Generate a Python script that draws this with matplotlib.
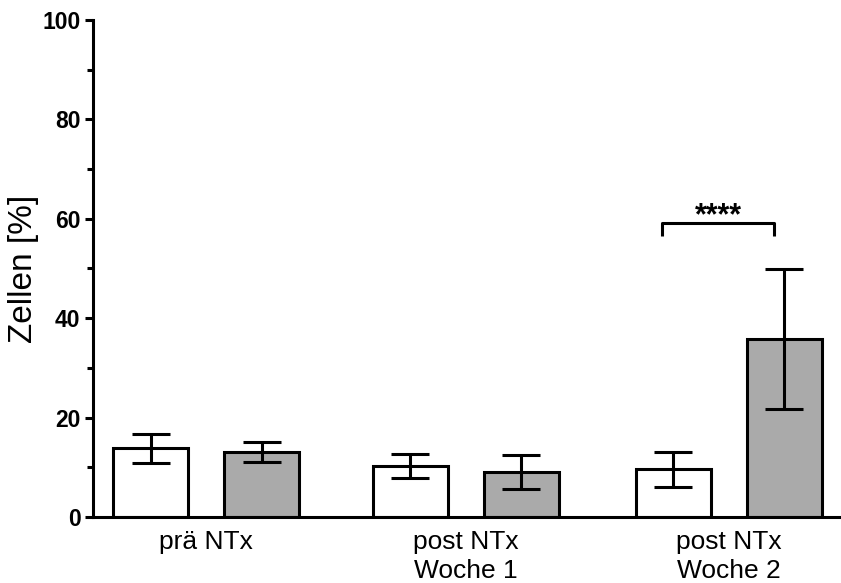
import matplotlib.pyplot as plt
import numpy as np

plt.rcParams['font.family'] = ['Liberation Sans', 'DejaVu Sans']

# Daten
gruppen = ['prä NTx', 'post NTx\nWoche 1', 'post NTx\nWoche 2']
werte_weiss = [13.8, 10.2, 9.6]
fehler_weiss = [2.9, 2.4, 3.5]
werte_grau = [13.1, 9.1, 35.8]
fehler_grau = [2.0, 3.4, 14.0]
signifikanz = '****'

# Positionen der Balken
mitte = np.array([0.75, 4.21, 7.72])
x_weiss = mitte - 0.74
x_grau = mitte + 0.74

fig = plt.figure(figsize=(8.41, 5.83), dpi=100)
ax = fig.add_axes([0.1106, 0.113, 0.888, 0.853])

lw = 2.2
ax.bar(x_weiss, werte_weiss, width=1.0, color='white', edgecolor='black', linewidth=lw, zorder=2)
ax.bar(x_grau, werte_grau, width=1.0, color='#aaaaaa', edgecolor='black', linewidth=lw, zorder=2)
ax.errorbar(x_weiss, werte_weiss, yerr=fehler_weiss, fmt='none', ecolor='black',
            elinewidth=lw, capsize=14, capthick=lw, zorder=3)
ax.errorbar(x_grau, werte_grau, yerr=fehler_grau, fmt='none', ecolor='black',
            elinewidth=lw, capsize=14, capthick=lw, zorder=3)

# Signifikanzklammer
x1, x2 = x_weiss[2] - 0.15, x_grau[2] - 0.14
ax.plot([x1, x1, x2, x2], [56.5, 59.2, 59.2, 56.5], color='black', lw=lw, solid_capstyle='butt')
ax.text((x1 + x2) / 2, 57.4, signifikanz, ha='center', va='bottom', fontsize=22, fontweight='bold')

ax.set_xlim(-0.76, 9.2)
ax.set_ylim(0, 100)
ax.set_yticks(np.arange(0, 101, 20))
ax.set_yticks(np.arange(0, 101, 10), minor=True)
ax.set_xticks(mitte)
ax.set_xticklabels(gruppen, fontsize=19, linespacing=1.3)
for lbl in ax.get_yticklabels():
    lbl.set_fontweight('bold')
ax.tick_params(axis='y', which='major', length=6, width=lw, labelsize=16.5, pad=3)
ax.tick_params(axis='y', which='minor', length=4, width=lw)
ax.tick_params(axis='x', length=0, pad=9)

ax.spines['top'].set_visible(False)
ax.spines['right'].set_visible(False)
ax.spines['left'].set_linewidth(lw)
ax.spines['bottom'].set_linewidth(lw)

ax.set_ylabel('Zellen [%]', fontsize=24, labelpad=2)

plt.savefig('out.png', dpi=100)
